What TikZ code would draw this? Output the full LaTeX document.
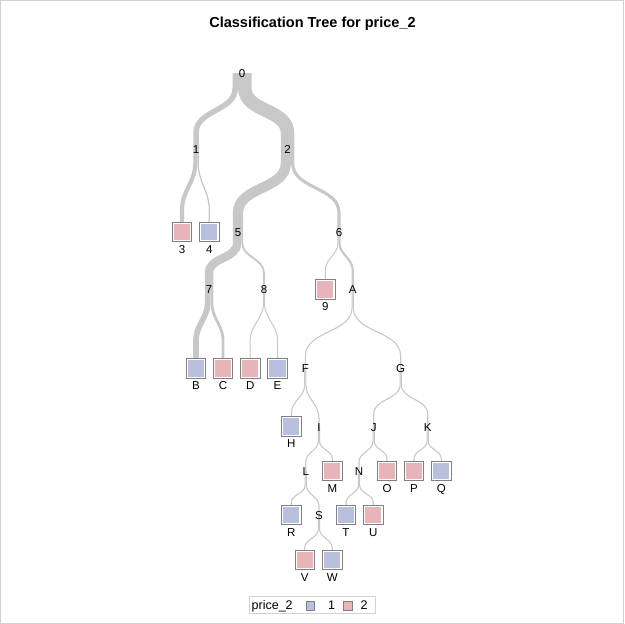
\documentclass[tikz,border=0pt]{standalone}
\usepackage{fontspec}
\setmainfont{Liberation Sans}
\usetikzlibrary{positioning,backgrounds}
\definecolor{bandgray}{RGB}{200,200,200}
\definecolor{boxgray}{RGB}{128,128,128}
\definecolor{framegray}{RGB}{210,210,210}
\definecolor{leafpink}{RGB}{231,180,185}
\definecolor{leafblue}{RGB}{184,192,221}

\begin{document}
\begin{tikzpicture}[x=1pt,y=-1pt,
  lbl/.style={inner sep=0pt, text height=8pt, text depth=0pt, font=\fontsize{11.5}{13}\selectfont},
  leaf/.style={draw=boxgray, line width=0.8pt, fill=white, minimum size=19.5pt, inner sep=0pt,
    path picture={\fill[#1] ([shift={(1.6pt,1.6pt)}]path picture bounding box.south west)
      rectangle ([shift={(-1.6pt,-1.6pt)}]path picture bounding box.north east);}},
  legbox/.style={draw=boxgray, line width=0.7pt, fill=#1, minimum size=8.5pt, inner sep=0pt},
  band/.style={draw=bandgray}]
\useasboundingbox (0,0) rectangle (624,624);
\draw[framegray] (0.5,0.5) rectangle (623.5,623.5);
% Title
\node[font=\bfseries\fontsize{14.5}{17}\selectfont] (title) at (312.5,24) {Classification Tree for price\_2};
% Split nodes
\node[lbl] (n0) at (242,73) {0};
\node[lbl] (n1) at (196,149) {1};
\node[lbl] (n2) at (287.5,149) {2};
\node[lbl] (n5) at (238,232) {5};
\node[lbl] (n6) at (339,232) {6};
\node[lbl] (n7) at (209,289) {7};
\node[lbl] (n8) at (264,289) {8};
\node[lbl] (nA) at (352.7,289) {A};
\node[lbl] (nF) at (305.3,368.5) {F};
\node[lbl] (nG) at (400.7,368.5) {G};
\node[lbl] (nI) at (319,427) {I};
\node[lbl] (nJ) at (373.7,427) {J};
\node[lbl] (nK) at (427.7,427) {K};
\node[lbl] (nL) at (305.7,471) {L};
\node[lbl] (nN) at (359,471) {N};
\node[lbl] (nS) at (319,515) {S};
% Leaves
\node[leaf=leafpink] (b3) at (182,232) {};
\node[leaf=leafblue] (b4) at (209.3,232) {};
\node[leaf=leafpink] (b9) at (325.3,289.5) {};
\node[leaf=leafblue] (bB) at (196,368.5) {};
\node[leaf=leafpink] (bC) at (223,368.5) {};
\node[leaf=leafpink] (bD) at (250.2,368.5) {};
\node[leaf=leafblue] (bE) at (277.5,368.5) {};
\node[leaf=leafblue] (bH) at (291.3,426.5) {};
\node[leaf=leafpink] (bM) at (332.3,471) {};
\node[leaf=leafpink] (bO) at (387,471) {};
\node[leaf=leafpink] (bP) at (414,471) {};
\node[leaf=leafblue] (bQ) at (441.3,471) {};
\node[leaf=leafblue] (bR) at (291.3,515) {};
\node[leaf=leafblue] (bT) at (346,515) {};
\node[leaf=leafpink] (bU) at (373.3,515) {};
\node[leaf=leafpink] (bV) at (304.7,560) {};
\node[leaf=leafblue] (bW) at (332.2,560) {};
% Leaf names
\node[lbl, below=3pt of b3] (t3) {3};
\node[lbl, below=3pt of b4] (t4) {4};
\node[lbl, below=3pt of b9] (t9) {9};
\node[lbl, below=3pt of bB] (tB) {B};
\node[lbl, below=3pt of bC] (tC) {C};
\node[lbl, below=3pt of bD] (tD) {D};
\node[lbl, below=3pt of bE] (tE) {E};
\node[lbl, below=3pt of bH] (tH) {H};
\node[lbl, below=3pt of bM] (tM) {M};
\node[lbl, below=3pt of bO] (tO) {O};
\node[lbl, below=3pt of bP] (tP) {P};
\node[lbl, below=3pt of bQ] (tQ) {Q};
\node[lbl, below=3pt of bR] (tR) {R};
\node[lbl, below=3pt of bT] (tT) {T};
\node[lbl, below=3pt of bU] (tU) {U};
\node[lbl, below=3pt of bV] (tV) {V};
\node[lbl, below=3pt of bW] (tW) {W};
% Branches, width by node size
\begin{scope}[on background layer]
\draw[band, line width=5.5pt] ([xshift=-6.75pt]n0.center) -- ++(0,-15pt) to[out=-90,in=90] ([yshift=16pt]n1.center) -- (n1.center);
\draw[band, line width=13.5pt] ([xshift=2.75pt]n0.center) -- ++(0,-15pt) to[out=-90,in=90] ([yshift=16pt]n2.center) -- (n2.center);
\draw[band, line width=4.2pt] ([xshift=-0.65pt]n1.center) -- ++(0,-14pt) to[out=-90,in=90] ([yshift=12pt]b3.north) -- (b3.north);
\draw[band, line width=1.3pt] ([xshift=2.1pt]n1.center) -- ++(0,-14pt) to[out=-90,in=90] ([yshift=12pt]b4.north) -- (b4.north);
\draw[band, line width=10.3pt] ([xshift=-1.6pt]n2.center) -- ++(0,-14pt) to[out=-90,in=90] ([yshift=19pt]n5.center) -- (n5.center);
\draw[band, line width=3.2pt] ([xshift=5.15pt]n2.center) -- ++(0,-14pt) to[out=-90,in=90] ([yshift=19pt]n6.center) -- (n6.center);
\draw[band, line width=8.5pt] ([xshift=-0.9pt]n5.center) -- ++(0,-11pt) to[out=-90,in=90] ([yshift=16pt]n7.center) -- (n7.center);
\draw[band, line width=1.8pt] ([xshift=4.25pt]n5.center) -- ++(0,-11pt) to[out=-90,in=90] ([yshift=16pt]n8.center) -- (n8.center);
\draw[band, line width=1pt] ([xshift=-1.1pt]n6.center) -- ++(0,-11pt) to[out=-90,in=90] ([yshift=9pt]b9.north) -- (b9.north);
\draw[band, line width=2.2pt] ([xshift=0.5pt]n6.center) -- ++(0,-11pt) to[out=-90,in=90] ([yshift=19pt]nA.center) -- (nA.center);
\draw[band, line width=5.7pt] ([xshift=-1.4pt]n7.center) -- ++(0,-14pt) to[out=-90,in=90] ([yshift=18pt]bB.north) -- (bB.north);
\draw[band, line width=2.8pt] ([xshift=2.85pt]n7.center) -- ++(0,-14pt) to[out=-90,in=90] ([yshift=18pt]bC.north) -- (bC.north);
\draw[band, line width=1pt] ([xshift=-0.45pt]n8.center) -- ++(0,-14pt) to[out=-90,in=90] ([yshift=18pt]bD.north) -- (bD.north);
\draw[band, line width=1pt] ([xshift=0.45pt]n8.center) -- ++(0,-14pt) to[out=-90,in=90] ([yshift=18pt]bE.north) -- (bE.north);
\draw[band, line width=1.1pt] ([xshift=-0.55pt]nA.center) -- ++(0,-18pt) to[out=-90,in=90] ([yshift=12pt]nF.center) -- (nF.center);
\draw[band, line width=1.1pt] ([xshift=0.55pt]nA.center) -- ++(0,-18pt) to[out=-90,in=90] ([yshift=12pt]nG.center) -- (nG.center);
\draw[band, line width=1.1pt] ([xshift=-0.55pt]nF.center) -- ++(0,-16pt) to[out=-90,in=90] ([yshift=3pt]bH.north) -- (bH.north);
\draw[band, line width=1.1pt] ([xshift=0.55pt]nF.center) -- ++(0,-16pt) to[out=-90,in=90] ([yshift=9pt]nI.center) -- (nI.center);
\draw[band, line width=1.1pt] ([xshift=-0.55pt]nG.center) -- ++(0,-16pt) to[out=-90,in=90] ([yshift=13pt]nJ.center) -- (nJ.center);
\draw[band, line width=1.1pt] ([xshift=0.55pt]nG.center) -- ++(0,-16pt) to[out=-90,in=90] ([yshift=13pt]nK.center) -- (nK.center);
\draw[band, line width=1.1pt] ([xshift=-0.55pt]nI.center) -- ++(0,-14pt) to[out=-90,in=90] ([yshift=9pt]nL.center) -- (nL.center);
\draw[band, line width=1.1pt] ([xshift=0.55pt]nI.center) -- ++(0,-14pt) to[out=-90,in=90] ([yshift=2pt]bM.north) -- (bM.north);
\draw[band, line width=1.1pt] ([xshift=-0.55pt]nJ.center) -- ++(0,-14pt) to[out=-90,in=90] ([yshift=9pt]nN.center) -- (nN.center);
\draw[band, line width=1.1pt] ([xshift=0.55pt]nJ.center) -- ++(0,-14pt) to[out=-90,in=90] ([yshift=2pt]bO.north) -- (bO.north);
\draw[band, line width=1.1pt] ([xshift=-0.55pt]nK.center) -- ++(0,-14pt) to[out=-90,in=90] ([yshift=2pt]bP.north) -- (bP.north);
\draw[band, line width=1.1pt] ([xshift=0.55pt]nK.center) -- ++(0,-14pt) to[out=-90,in=90] ([yshift=2pt]bQ.north) -- (bQ.north);
\draw[band, line width=1.1pt] ([xshift=-0.55pt]nL.center) -- ++(0,-14pt) to[out=-90,in=90] ([yshift=2pt]bR.north) -- (bR.north);
\draw[band, line width=1.1pt] ([xshift=0.55pt]nL.center) -- ++(0,-14pt) to[out=-90,in=90] ([yshift=9pt]nS.center) -- (nS.center);
\draw[band, line width=1.1pt] ([xshift=-0.55pt]nN.center) -- ++(0,-14pt) to[out=-90,in=90] ([yshift=2pt]bT.north) -- (bT.north);
\draw[band, line width=1.1pt] ([xshift=0.55pt]nN.center) -- ++(0,-14pt) to[out=-90,in=90] ([yshift=2pt]bU.north) -- (bU.north);
\draw[band, line width=1.1pt] ([xshift=-0.55pt]nS.center) -- ++(0,-14pt) to[out=-90,in=90] ([yshift=2pt]bV.north) -- (bV.north);
\draw[band, line width=1.1pt] ([xshift=0.55pt]nS.center) -- ++(0,-14pt) to[out=-90,in=90] ([yshift=2pt]bW.north) -- (bW.north);
\end{scope}
% Legend
\node[draw=framegray, line width=0.8pt, minimum width=125.7pt, minimum height=16.3pt, inner sep=0pt] (legend) at (312.2,604.9) {};
\node[lbl, anchor=west, font=\fontsize{12.5}{14}\selectfont] (legname) at (251.5,605) {price\_2};
\node[legbox=leafblue] (leg1) at (310.5,605.8) {};
\node[lbl, font=\fontsize{12.5}{14}\selectfont] (legt1) at (331.5,605) {1};
\node[legbox=leafpink] (leg2) at (347.8,605.8) {};
\node[lbl, font=\fontsize{12.5}{14}\selectfont] (legt2) at (364,605) {2};
\end{tikzpicture}
\end{document}
